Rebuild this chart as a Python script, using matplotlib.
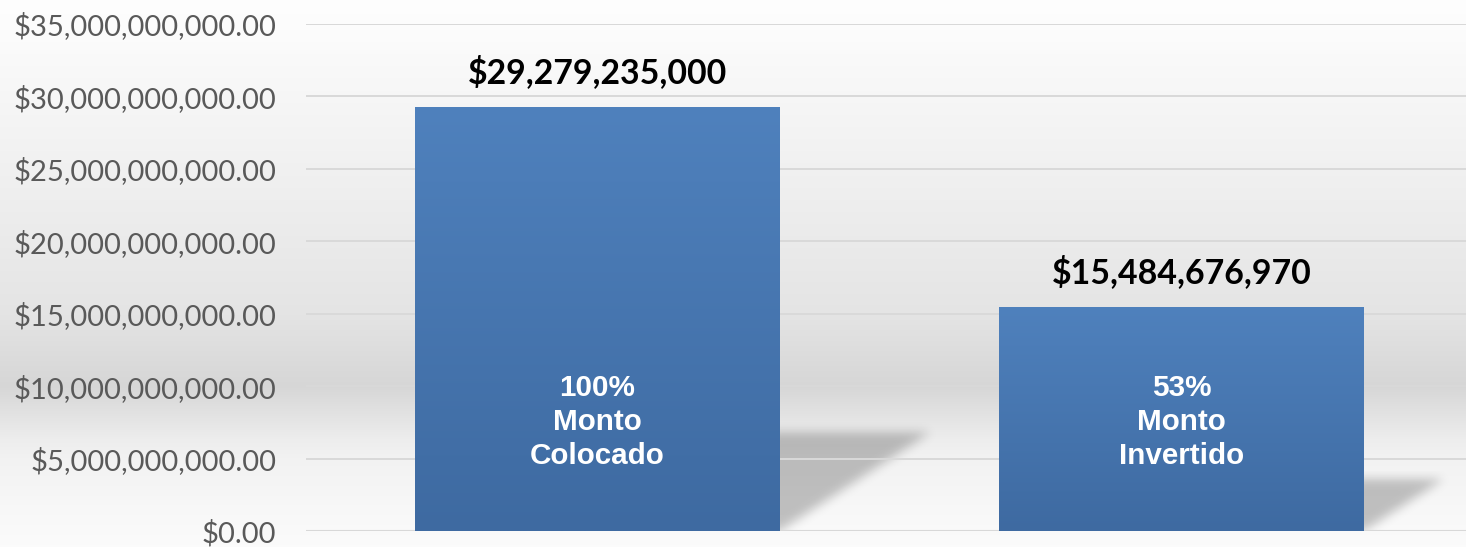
import matplotlib
matplotlib.use("Agg")
import matplotlib.pyplot as plt
import numpy as np
from matplotlib.colors import LinearSegmentedColormap
from matplotlib.ticker import FuncFormatter

# data
categories = ["Monto Colocado", "Monto Invertido"]
values = [29279235000, 15484676970]
inner_labels = ["100%\nMonto\nColocado", "53%\nMonto\nInvertido"]
value_labels = ["$29,279,235,000", "$15,484,676,970"]

W, H = 14.66, 5.47
fig = plt.figure(figsize=(W, H), dpi=100)

# background gradient (top of figure -> bottom)
bg = fig.add_axes([0, 0, 1, 1], zorder=-10)
pos = np.array([0, 24, 241, 314, 386, 440, 459, 547]) / 547
lev = np.array([0.995, 0.99, 0.92, 0.895, 0.84, 0.93, 0.95, 0.985])
yy = np.linspace(0, 1, 547)
shade = np.interp(yy, pos, lev)
img = np.repeat(shade[:, None], 2, axis=1)[:, :, None].repeat(3, axis=2)
bg.imshow(img, aspect="auto", extent=[0, 1, 0, 1], origin="upper")
bg.axis("off")

ax_rect = [0.2084, 0.0293, 0.7967, 0.9268]
ax = fig.add_axes(ax_rect)
ax.patch.set_alpha(0)
x = np.arange(len(categories))
width = 0.625
xlim, ylim = (-0.5, 1.5), (0, 35e9)

ax.set_yticks(np.arange(0, 35e9 + 1, 5e9))
ax.yaxis.set_major_formatter(FuncFormatter(lambda v, p: f"${v:,.2f}"))
ax.tick_params(axis="y", length=0, pad=21, labelsize=21, labelcolor="#595959")
for t in ax.get_yticklabels():
    t.set_fontfamily("Lato")
ax.set_xticks([])
ax.grid(axis="y", color="#d9d9d9", linewidth=1.4, zorder=0)
for s in ax.spines.values():
    s.set_visible(False)
ax.axhline(0, color="#d0d0d0", linewidth=1.5, zorder=1)

# pixel scale of the data axes, used for the blurred shadows
px_x = W * 100 * ax_rect[2] / (xlim[1] - xlim[0])
px_y = H * 100 * ax_rect[3] / (ylim[1] - ylim[0])


def blur(a, sigma):
    k = np.arange(-3 * sigma, 3 * sigma + 1)
    g = np.exp(-k ** 2 / (2 * sigma ** 2))
    g /= g.sum()
    a = np.apply_along_axis(lambda r: np.convolve(r, g, mode="same"), 0, a)
    a = np.apply_along_axis(lambda r: np.convolve(r, g, mode="same"), 1, a)
    return a


# perspective shadow cast by each bar onto the floor
for xi, v in zip(x, values):
    x1 = xi + width / 2
    dy = v * 0.232
    dx = dy * 0.038 / 1e9
    m = 0.04
    gx = np.linspace(x1 - 0.02, x1 + dx + m, int((dx + m + 0.02) * px_x))
    gy = np.linspace(-dy * 0.1, dy * 1.15, int(dy * 1.25 * px_y))
    X, Y = np.meshgrid(gx, gy)
    inside = (Y >= 0) & (Y <= dy) & (X <= x1 + dx * Y / dy)
    mask = blur(inside.astype(float), 5)
    mask[gy < 0, :] = 0
    rgba = np.zeros(mask.shape + (4,))
    rgba[..., 3] = mask * 0.23
    ax.imshow(rgba, origin="lower", aspect="auto", interpolation="bilinear",
              extent=[gx[0], gx[-1], gy[0], gy[-1]], zorder=1.5)

bars = ax.bar(x, values, width, color="#4a7ab6", zorder=2)

# bar gradient
cmap = LinearSegmentedColormap.from_list("barg", ["#3e6aa1", "#4f81bd"])
grad = np.linspace(0, 1, 256)[:, None]
for b in bars:
    im = ax.imshow(grad, cmap=cmap, aspect="auto", origin="lower",
                   extent=[b.get_x(), b.get_x() + b.get_width(), 0, b.get_height()], zorder=3)
    im.set_clip_path(b)
ax.set_xlim(*xlim)
ax.set_ylim(*ylim)

for xi, v, lbl, inner in zip(x, values, value_labels, inner_labels):
    ax.annotate(lbl, (xi, v), xytext=(0, 13), textcoords="offset points",
                ha="center", va="bottom", fontsize=24.4, fontweight="bold",
                fontfamily="Lato", color="black", zorder=5)
    ax.text(xi, 7.5e9, inner, ha="center", va="center", fontsize=21.3, fontweight="bold",
            fontfamily="Liberation Sans", color="white", linespacing=1.27, zorder=5)

fig.savefig("out.png", dpi=100)
